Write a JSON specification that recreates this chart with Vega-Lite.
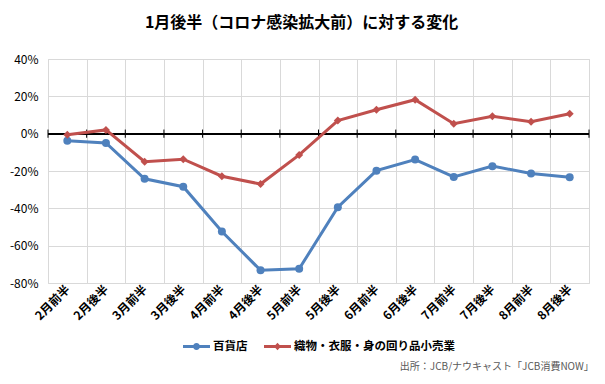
{
  "$schema": "https://vega.github.io/schema/vega-lite/v6.json",
  "padding": {"left": 8, "top": 14, "right": 5, "bottom": 5},
  "background": "white",
  "title": {"text": "1月後半（コロナ感染拡大前）に対する変化", "fontSize": 16, "fontWeight": "bold", "color": "#000000", "anchor": "middle", "offset": 22, "font": "Noto Sans CJK JP"},
  "data": {"values": [
    {"period": "2月前半", "series": "百貨店", "value": -3.8},
    {"period": "2月後半", "series": "百貨店", "value": -5.0},
    {"period": "3月前半", "series": "百貨店", "value": -24.2},
    {"period": "3月後半", "series": "百貨店", "value": -28.4},
    {"period": "4月前半", "series": "百貨店", "value": -52.4},
    {"period": "4月後半", "series": "百貨店", "value": -73.2},
    {"period": "5月前半", "series": "百貨店", "value": -72.4},
    {"period": "5月後半", "series": "百貨店", "value": -39.4},
    {"period": "6月前半", "series": "百貨店", "value": -19.8},
    {"period": "6月後半", "series": "百貨店", "value": -13.9},
    {"period": "7月前半", "series": "百貨店", "value": -23.2},
    {"period": "7月後半", "series": "百貨店", "value": -17.4},
    {"period": "8月前半", "series": "百貨店", "value": -21.3},
    {"period": "8月後半", "series": "百貨店", "value": -23.3},
    {"period": "2月前半", "series": "織物・衣服・身の回り品小売業", "value": -0.6},
    {"period": "2月後半", "series": "織物・衣服・身の回り品小売業", "value": 2.0},
    {"period": "3月前半", "series": "織物・衣服・身の回り品小売業", "value": -15.0},
    {"period": "3月後半", "series": "織物・衣服・身の回り品小売業", "value": -13.7},
    {"period": "4月前半", "series": "織物・衣服・身の回り品小売業", "value": -22.8},
    {"period": "4月後半", "series": "織物・衣服・身の回り品小売業", "value": -27.0},
    {"period": "5月前半", "series": "織物・衣服・身の回り品小売業", "value": -11.4},
    {"period": "5月後半", "series": "織物・衣服・身の回り品小売業", "value": 7.0},
    {"period": "6月前半", "series": "織物・衣服・身の回り品小売業", "value": 12.8},
    {"period": "6月後半", "series": "織物・衣服・身の回り品小売業", "value": 18.2},
    {"period": "7月前半", "series": "織物・衣服・身の回り品小売業", "value": 5.3},
    {"period": "7月後半", "series": "織物・衣服・身の回り品小売業", "value": 9.3},
    {"period": "8月前半", "series": "織物・衣服・身の回り品小売業", "value": 6.4},
    {"period": "8月後半", "series": "織物・衣服・身の回り品小売業", "value": 10.7}
  ]},
  "resolve": {"legend": {"color": "independent"}},
  "vconcat": [
    {
      "width": 541,
      "height": 224,
      "title": {"text": "出所：JCB/ナウキャスト「JCB消費NOW」", "orient": "bottom", "anchor": "end", "fontSize": 10, "fontWeight": "normal", "color": "#595959", "offset": 10, "dx": 4, "font": "Noto Sans CJK JP"},
      "encoding": {
        "x": {"field": "period", "type": "nominal", "sort": null,
          "scale": {"paddingInner": 0, "paddingOuter": 0},
          "axis": {"title": null, "labelAngle": -45, "labelAlign": "right", "labelBaseline": "middle", "tickBand": "extent", "ticks": false, "domain": false, "grid": true, "gridColor": "#d9d9d9", "labelPadding": 4, "labelFontSize": 12, "labelFontWeight": "bold", "labelColor": "#000000"}},
        "y": {"type": "quantitative",
          "scale": {"domain": [-80, 40], "nice": false, "zero": false},
          "axis": {"title": null, "values": [-80, -60, -40, -20, 0, 20, 40], "labelExpr": "datum.value + '%'", "domain": false, "ticks": false, "grid": true, "gridColor": "#d9d9d9", "labelPadding": 10, "labelFontSize": 12, "labelColor": "#000000"}}
      },
      "layer": [
        {"mark": {"type": "rule", "color": "#000000", "strokeWidth": 1.5}, "encoding": {"x": null, "y": {"datum": 0, "type": "quantitative"}}},
        {"transform": [{"filter": "datum.series === '百貨店'"}],
         "mark": {"type": "rule", "color": "#000000", "strokeWidth": 1},
         "encoding": {"x": {"field": "period", "type": "nominal", "sort": null, "bandPosition": 0}, "y": {"datum": -2.2, "type": "quantitative"}, "y2": {"datum": 2.2}}},
        {"transform": [{"filter": "datum.series === '百貨店' && datum.period === '8月後半'"}],
         "mark": {"type": "rule", "color": "#000000", "strokeWidth": 1},
         "encoding": {"x": {"field": "period", "type": "nominal", "sort": null, "bandPosition": 1}, "y": {"datum": -2.2, "type": "quantitative"}, "y2": {"datum": 2.2}}},
        {"mark": {"type": "line", "strokeWidth": 3},
         "encoding": {"y": {"field": "value", "type": "quantitative"},
           "color": {"field": "series", "type": "nominal",
             "scale": {"domain": ["百貨店", "織物・衣服・身の回り品小売業"], "range": ["#4f81bd", "#c0504d"]},
             "legend": {"title": null, "orient": "bottom", "direction": "horizontal", "labelFontSize": 11.5, "labelFontWeight": "bold", "labelColor": "#000000", "labelLimit": 400, "symbolSize": 729, "labelOffset": 3, "columnPadding": 16, "offset": 11,
               "encode": {"symbols": {"update": {
                 "shape": {"signal": "datum.value === '百貨店' ? 'M-1,-0.11L1,-0.11L1,0.11L-1,0.11Z M0.26,0A0.26,0.26 0 1,1 -0.26,0A0.26,0.26 0 1,1 0.26,0Z' : 'M-1,-0.11L1,-0.11L1,0.11L-1,0.11Z M0,-0.28L0.26,0L0,0.28L-0.26,0Z'"},
                 "fill": {"signal": "datum.value === '百貨店' ? '#4f81bd' : '#c0504d'"},
                 "stroke": {"value": "transparent"},
                 "strokeWidth": {"value": 0},
                 "opacity": {"value": 1}}}}}}}},
        {"mark": {"type": "point", "filled": true, "opacity": 1, "size": 64},
         "encoding": {"y": {"field": "value", "type": "quantitative"},
           "color": {"field": "series", "type": "nominal", "scale": {"domain": ["百貨店", "織物・衣服・身の回り品小売業"], "range": ["#4f81bd", "#c0504d"]}},
           "shape": {"field": "series", "type": "nominal", "scale": {"domain": ["百貨店", "織物・衣服・身の回り品小売業"], "range": ["circle", "diamond"]}, "legend": null}}}
      ]
    }
  ],
  "config": {
    "font": "Noto Sans CJK JP",
    "view": {"stroke": "#d9d9d9"},
    "axis": {"labelFont": "Noto Sans CJK JP"},
    "legend": {"labelFont": "Noto Sans CJK JP", "layout": {"bottom": {"anchor": "middle"}}}
  }
}
